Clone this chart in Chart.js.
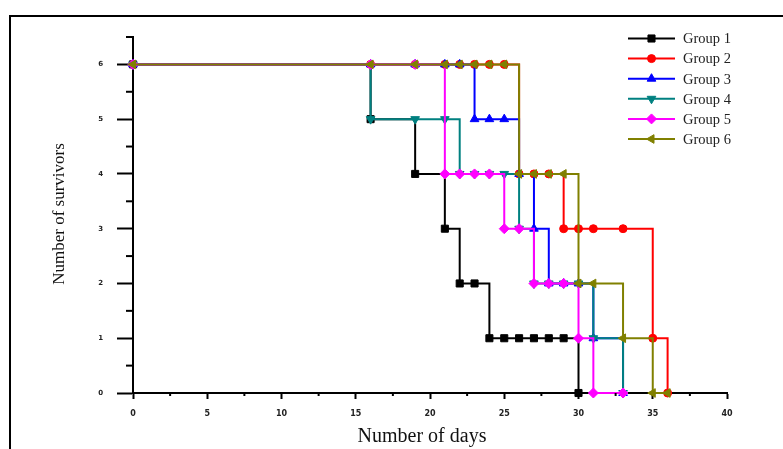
<!DOCTYPE html>
<html>
<head>
<meta charset="utf-8">
<script src="https://cdn.jsdelivr.net/npm/chart.js@4.4.0/dist/chart.umd.min.js"></script>
<style>
  html, body { margin: 0; padding: 0; background: #fff; }
  #wrap { position: relative; width: 783px; height: 449px; overflow: hidden; }
  #frame { position: absolute; left: 9px; top: 15px; right: -10px; bottom: -10px;
           border-left: 2px solid #000; border-top: 2px solid #000; }
  canvas { position: absolute; left: 0; top: 0; }
</style>
</head>
<body>
<div id="wrap">
  <div id="frame"></div>
  <canvas id="myChart" width="783" height="449"></canvas>
</div>
<script>
const groupNames = ['Group 1', 'Group 2', 'Group 3', 'Group 4', 'Group 5', 'Group 6'];

const days1 = [0, 16, 19, 21, 22, 23, 24, 25, 26, 27, 28, 29, 30];
const surv1 = [6, 5, 4, 3, 2, 2, 1, 1, 1, 1, 1, 1, 0];

const days2 = [0, 16, 19, 21, 22, 23, 24, 25, 26, 27, 28, 29, 30, 31, 33, 35, 36];
const surv2 = [6, 6, 6, 6, 6, 6, 6, 6, 4, 4, 4, 3, 3, 3, 3, 1, 0];

const days3 = [0, 16, 19, 21, 22, 23, 24, 25, 26, 27, 28, 29, 30, 31, 33];
const surv3 = [6, 6, 6, 6, 6, 5, 5, 5, 4, 3, 2, 2, 2, 1, 0];

const days4 = [0, 16, 19, 21, 22, 23, 24, 25, 26, 27, 28, 29, 30, 31, 33];
const surv4 = [6, 5, 5, 5, 4, 4, 4, 4, 3, 2, 2, 2, 2, 1, 0];

const days5 = [0, 16, 19, 21, 22, 23, 24, 25, 26, 27, 28, 29, 30, 31, 33];
const surv5 = [6, 6, 6, 4, 4, 4, 4, 3, 3, 2, 2, 2, 1, 0, 0];

const days6 = [0, 16, 19, 21, 22, 23, 24, 25, 26, 27, 28, 29, 30, 31, 33, 35, 36];
const surv6 = [6, 6, 6, 6, 6, 6, 6, 6, 4, 4, 4, 4, 2, 2, 1, 0, 0];

const xTitle = 'Number of days';
const yTitle = 'Number of survivors';

const toPoints = (d, s) => d.map((x, i) => ({ x: x, y: s[i] }));

const styles = [
  { color: '#000000', pointStyle: 'rect', radius: 5, rotation: 0 },
  { color: '#ff0000', pointStyle: 'circle', radius: 4, rotation: 0 },
  { color: '#0000ff', pointStyle: 'triangle', radius: 5, rotation: 0 },
  { color: '#008080', pointStyle: 'triangle', radius: 5, rotation: 180 },
  { color: '#ff00ff', pointStyle: 'rectRot', radius: 5, rotation: 0 },
  { color: '#808000', pointStyle: 'triangle', radius: 5, rotation: -90 }
];

const allDays = [days1, days2, days3, days4, days5, days6];
const allSurv = [surv1, surv2, surv3, surv4, surv5, surv6];

const datasets = groupNames.map((name, i) => ({
  label: name,
  data: toPoints(allDays[i], allSurv[i]),
  stepped: 'before',
  borderColor: styles[i].color,
  backgroundColor: styles[i].color,
  borderWidth: 2,
  pointStyle: styles[i].pointStyle,
  pointRadius: styles[i].radius,
  pointRotation: styles[i].rotation,
  pointBorderWidth: 1,
  pointBackgroundColor: styles[i].color,
  pointBorderColor: styles[i].color,
  order: groupNames.length - i,
  clip: false
}));

// minor ticks, axis titles and the line+marker legend
const extras = {
  id: 'extras',
  afterDraw(chart) {
    const ctx = chart.ctx;
    const xs = chart.scales.x, ys = chart.scales.y;
    ctx.save();
    ctx.strokeStyle = '#000';
    ctx.lineWidth = 2;
    for (let v = 2.5; v < 40; v += 5) {
      const px = xs.getPixelForValue(v);
      ctx.beginPath(); ctx.moveTo(px, xs.top); ctx.lineTo(px, xs.top + 3); ctx.stroke();
    }
    for (let v = 0.5; v <= 6.5; v += 1) {
      const py = ys.getPixelForValue(v);
      ctx.beginPath(); ctx.moveTo(ys.right, py); ctx.lineTo(ys.right - 7, py); ctx.stroke();
    }

    ctx.fillStyle = '#111';
    ctx.textAlign = 'center';
    ctx.textBaseline = 'middle';
    ctx.font = '20px "Liberation Serif"';
    ctx.fillText(xTitle, 422, 437);
    ctx.save();
    ctx.translate(60, 214);
    ctx.rotate(-Math.PI / 2);
    ctx.font = '17px "Liberation Serif"';
    ctx.fillText(yTitle, 0, 0);
    ctx.restore();

    // legend
    const lx = 628, lw = 47, ly = 38.5, gap = 20.1;
    chart.data.datasets.forEach((ds, i) => {
      const y = ly + i * gap;
      ctx.strokeStyle = ds.borderColor;
      ctx.lineWidth = 2;
      ctx.beginPath(); ctx.moveTo(lx, y); ctx.lineTo(lx + lw, y); ctx.stroke();
      ctx.fillStyle = ds.pointBackgroundColor;
      ctx.strokeStyle = ds.pointBorderColor;
      ctx.lineWidth = 1;
      if (Chart.helpers && Chart.helpers.drawPoint) {
        Chart.helpers.drawPoint(ctx, {
          pointStyle: ds.pointStyle, radius: ds.pointRadius,
          rotation: ds.pointRotation, borderWidth: 1
        }, lx + lw / 2, y);
      } else {
        ctx.beginPath(); ctx.arc(lx + lw / 2, y, ds.pointRadius, 0, Math.PI * 2); ctx.fill();
      }
      ctx.fillStyle = '#222';
      ctx.textAlign = 'left';
      ctx.font = '14.5px "Liberation Serif"';
      ctx.fillText(ds.label, 683, y + 1);
    });
    ctx.restore();
  }
};

const ctx = document.getElementById('myChart').getContext('2d');

new Chart(ctx, {
  type: 'line',
  data: { datasets: datasets },
  options: {
    responsive: false,
    animation: false,
    devicePixelRatio: 1,
    layout: { padding: { left: 55, right: 56, top: 37, bottom: 2 } },
    plugins: { legend: { display: false }, tooltip: { enabled: false } },
    scales: {
      x: {
        type: 'linear',
        min: 0,
        max: 40,
        afterFit: (s) => { s.height = 54; },
        ticks: { stepSize: 5, padding: 10, color: '#222',
                 font: { family: 'DejaVu Sans', size: 8, weight: 'bold' } },
        grid: { drawOnChartArea: false, drawTicks: true, tickLength: 6,
                tickColor: '#000', tickWidth: 2, color: '#000' },
        border: { color: '#000', width: 2 }
      },
      y: {
        min: 0,
        max: 6.5,
        afterFit: (s) => { s.width = 78; },
        ticks: { stepSize: 1, includeBounds: false, padding: 14, color: '#222',
                 font: { family: 'DejaVu Sans', size: 7, weight: 'bold' } },
        grid: { drawOnChartArea: false, drawTicks: true, tickLength: 16,
                tickColor: '#000', tickWidth: 2, color: '#000' },
        border: { color: '#000', width: 2 }
      }
    }
  },
  plugins: [extras]
});
</script>
</body>
</html>
